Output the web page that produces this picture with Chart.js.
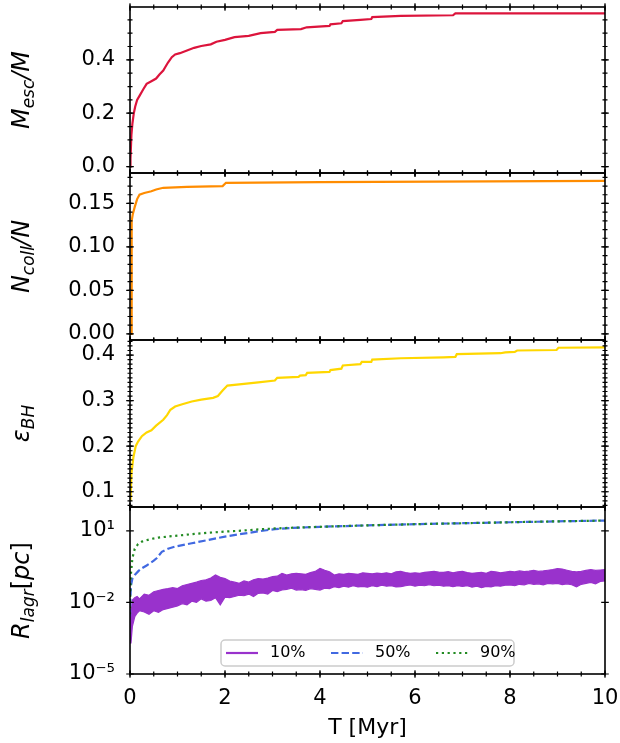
<!DOCTYPE html>
<html>
<head>
<meta charset="utf-8">
<script src="https://cdn.jsdelivr.net/npm/chart.js@4.4.1/dist/chart.umd.min.js"></script>
<style>
    html, body { margin: 0; padding: 0; background: #fff; }
    #wrap { position: relative; width: 620px; height: 743px; }
    #wrap canvas { position: absolute; left: 0; top: 0; }
</style>
</head>
<body>
<div id="wrap">
    <canvas id="escChart" width="620" height="743"></canvas>
    <canvas id="collChart" width="620" height="743"></canvas>
    <canvas id="bhChart" width="620" height="743"></canvas>
    <canvas id="lagrChart" width="620" height="743"></canvas>
</div>
<script>

// DATA

const X_TICKS = [0, 2, 4, 6, 8, 10];
const X_TITLE = "T [Myr]";

// escaped mass fraction
const tEsc = [0, 0.01, 0.03, 0.05, 0.08, 0.11, 0.15, 0.2, 0.28, 0.35, 0.45, 0.55, 0.62, 0.7, 0.75, 0.8, 0.88, 0.95,
    1.05, 1.2, 1.35, 1.5, 1.7, 1.82, 2.0, 2.2, 2.5, 2.75, 3.05, 3.1, 3.6, 3.72, 4.2, 4.22, 4.45, 4.48, 4.85,
    5.08, 5.1, 5.7, 6.8, 6.85, 10];
const mEsc = [0, 0.03, 0.12, 0.16, 0.2, 0.225, 0.25, 0.265, 0.29, 0.31, 0.32, 0.33, 0.345, 0.36, 0.375, 0.39, 0.41, 0.42,
    0.425, 0.435, 0.445, 0.452, 0.458, 0.468, 0.475, 0.485, 0.49, 0.5, 0.505, 0.512, 0.515, 0.522, 0.527, 0.533, 0.537, 0.545, 0.55,
    0.553, 0.56, 0.565, 0.567, 0.574, 0.574];
const escTicks = [0.0, 0.2, 0.4];

// collision fraction
const tColl = [0, 0.03, 0.035, 0.06, 0.1, 0.15, 0.2, 0.3, 0.45, 0.55, 0.7, 1.2, 1.95, 2.02, 4, 10];
const nColl = [0, 0, 0.13, 0.138, 0.146, 0.155, 0.16, 0.162, 0.164, 0.166, 0.168, 0.169, 0.170, 0.1737, 0.1745, 0.176];
const collTicks = [0.00, 0.05, 0.10, 0.15];

// BH retention
const tBH = [0.01, 0.03, 0.07, 0.12, 0.17, 0.25, 0.35, 0.45, 0.55, 0.7, 0.78, 0.85, 0.95, 1.1, 1.3, 1.5, 1.75, 1.85, 1.95,
    2.05, 2.35, 2.7, 3.05, 3.1, 3.55, 3.58, 3.7, 3.73, 4.2, 4.22, 4.45, 4.48, 4.85, 4.88, 5.08, 5.1, 5.7, 6.6, 6.85,
    6.88, 7.8, 7.9, 8.1, 8.15, 8.98, 9.02, 10];
const epsBH = [0.08, 0.14, 0.175, 0.2, 0.21, 0.222, 0.23, 0.235, 0.245, 0.258, 0.268, 0.28, 0.287, 0.292, 0.298, 0.302, 0.306, 0.31, 0.322,
    0.333, 0.336, 0.34, 0.344, 0.35, 0.352, 0.355, 0.356, 0.361, 0.363, 0.367, 0.37, 0.377, 0.38, 0.385, 0.385, 0.39, 0.393, 0.395, 0.396,
    0.402, 0.404, 0.406, 0.407, 0.41, 0.411, 0.416, 0.417];
const bhTicks = [0.1, 0.2, 0.3, 0.4];

// lagrangian radii, log10(pc)
const tBand = [0, 0.02, 0.05, 0.1, 0.15, 0.2, 0.3, 0.4, 0.5, 0.6, 0.7, 0.8, 0.9, 1.0,
    1.1, 1.2, 1.3, 1.4, 1.5, 1.6, 1.7, 1.8, 1.9, 2.0, 2.1, 2.2, 2.3, 2.4, 2.5, 2.6, 2.7, 2.8, 2.9, 3.0,
    3.1, 3.2, 3.3, 3.4, 3.5, 3.6, 3.7, 3.8, 3.9, 4.0, 4.1, 4.2, 4.3, 4.4, 4.5, 4.6, 4.7, 4.8, 4.9, 5.0,
    5.1, 5.2, 5.3, 5.4, 5.5, 5.6, 5.7, 5.8, 5.9, 6.0, 6.1, 6.2, 6.3, 6.4, 6.5, 6.6, 6.7, 6.8, 6.9, 7.0,
    7.1, 7.2, 7.3, 7.4, 7.5, 7.6, 7.7, 7.8, 7.9, 8.0, 8.1, 8.2, 8.3, 8.4, 8.5, 8.6, 8.7, 8.8, 8.9, 9.0,
    9.1, 9.2, 9.3, 9.4, 9.5, 9.6, 9.7, 9.8, 9.9, 10.0];
const r10HiLog = [-2.6, -2.5, -1.9, -1.8, -1.75, -1.85, -1.65, -1.7, -1.55, -1.5, -1.45, -1.42, -1.38, -1.42,
    -1.3, -1.25, -1.2, -1.15, -1.08, -1.05, -0.98, -0.85, -0.95, -1.0, -1.1, -1.15, -1.2, -1.1, -1.15, -1.05, -1.0, -1.02, -0.98, -0.92,
    -0.9, -0.78, -0.85, -0.8, -0.78, -0.8, -0.82, -0.75, -0.7, -0.57, -0.65, -0.72, -0.85, -0.8, -0.82, -0.78, -0.8, -0.82, -0.76, -0.78,
    -0.8, -0.77, -0.79, -0.76, -0.8, -0.72, -0.7, -0.75, -0.78, -0.76, -0.78, -0.74, -0.72, -0.7, -0.73, -0.74, -0.71, -0.76, -0.72, -0.7,
    -0.75, -0.78, -0.76, -0.74, -0.78, -0.7, -0.72, -0.76, -0.73, -0.7, -0.72, -0.68, -0.71, -0.69, -0.66, -0.7, -0.68, -0.65, -0.62, -0.58,
    -0.6, -0.65, -0.7, -0.72, -0.7, -0.66, -0.62, -0.66, -0.64, -0.62];
const r10LoLog = [-3.3, -3.72, -3.0, -2.6, -2.45, -2.35, -2.4, -2.5, -2.35, -2.42, -2.3, -2.25, -2.2, -2.15,
    -2.05, -2.1, -1.95, -2.0, -1.85, -1.95, -1.92, -1.8, -2.1, -1.78, -1.8, -1.75, -1.7, -1.72, -1.65, -1.75, -1.62, -1.6, -1.65, -1.5,
    -1.55, -1.48, -1.45, -1.4, -1.48, -1.46, -1.5, -1.42, -1.45, -1.48, -1.4, -1.42, -1.34, -1.38, -1.32, -1.36, -1.3, -1.35, -1.33, -1.36,
    -1.3, -1.34, -1.28, -1.32, -1.3, -1.35, -1.34, -1.3, -1.27, -1.32, -1.28, -1.3, -1.26, -1.3, -1.28, -1.32, -1.3, -1.34, -1.3, -1.33,
    -1.3, -1.36, -1.32, -1.38, -1.33, -1.35, -1.3, -1.32, -1.28, -1.27, -1.3, -1.24, -1.26, -1.2, -1.24, -1.22, -1.26, -1.2, -1.22, -1.2,
    -1.25, -1.22, -1.26, -1.35, -1.24, -1.2, -1.16, -1.22, -1.12, -1.1];

const t50 = [0, 0.005, 0.02, 0.05, 0.1, 0.18, 0.25, 0.35, 0.42, 0.5, 0.56, 0.62, 0.67, 0.8, 0.95, 1.3, 1.65, 2.0, 2.35, 2.7,
    3.05, 3.4, 4, 5, 6, 7, 8, 9, 10];
const r50Log = [-2.6, -2.0, -1.3, -1.0, -0.85, -0.68, -0.57, -0.45, -0.36, -0.25, -0.15, 0.0, 0.12, 0.25, 0.34, 0.48, 0.62, 0.76, 0.87, 0.98,
    1.07, 1.12, 1.17, 1.23, 1.28, 1.32, 1.36, 1.4, 1.43];

const t90 = [0, 0.005, 0.02, 0.05, 0.1, 0.17, 0.25, 0.42, 0.6, 0.95, 1.3, 1.65, 2.0, 2.35, 2.7, 3.05, 3.4, 4, 5, 6, 7, 8, 9, 10];
const r90Log = [-2.5, -1.6, -0.8, -0.15, 0.25, 0.45, 0.55, 0.65, 0.72, 0.79, 0.86, 0.92, 0.97, 1.01, 1.06, 1.1, 1.13, 1.17, 1.23, 1.28,
    1.32, 1.36, 1.4, 1.43];

const lagrLabels = ["10%", "50%", "90%"];
const lagrTicks = [1e-5, 1e-2, 1e1];


// HELPERS

const FONT = "'DejaVu Sans', sans-serif";
Chart.defaults.font.family = FONT;
Chart.defaults.color = "#000";

function pts(xs, ys) {
    return xs.map((x, i) => ({ x: x, y: ys[i] }));
}

function fromLog(arr) {
    return arr.map(v => Math.pow(10, v));
}

const SUP = { "-": "\u207B", "0": "\u2070", "1": "\u00B9", "2": "\u00B2", "3": "\u00B3", "4": "\u2074",
    "5": "\u2075", "6": "\u2076", "7": "\u2077", "8": "\u2078", "9": "\u2079" };

function powLabel(v) {
    const e = String(Math.round(Math.log10(v)));
    return "10" + e.split("").map(c => SUP[c]).join("");
}


// PLUGINS

// frame + in/out ticks on all four sides
const frameTicks = {
    id: "frameTicks",
    afterDraw(chart, args, o) {
        const ctx = chart.ctx;
        const a = chart.chartArea;
        const xs = chart.scales.x;
        const ys = chart.scales.y;

        ctx.save();
        ctx.strokeStyle = "#000";
        ctx.lineWidth = 1.2;

        function vTick(px, len) {
            ctx.beginPath();
            ctx.moveTo(px, a.bottom - len); ctx.lineTo(px, a.bottom + len);
            ctx.moveTo(px, a.top - len); ctx.lineTo(px, a.top + len);
            ctx.stroke();
        }
        function hTick(py, len) {
            ctx.beginPath();
            ctx.moveTo(a.left - len, py); ctx.lineTo(a.left + len, py);
            ctx.moveTo(a.right - len, py); ctx.lineTo(a.right + len, py);
            ctx.stroke();
        }

        for (let k = 0; k * 0.5 <= xs.max + 1e-9; k++) vTick(xs.getPixelForValue(k * 0.5), 2.5);
        X_TICKS.forEach(v => vTick(xs.getPixelForValue(v), 3.8));

        if (o.yMinor) {
            for (let k = Math.ceil(ys.min / o.yMinor - 1e-9); k * o.yMinor <= ys.max + 1e-9; k++) {
                hTick(ys.getPixelForValue(k * o.yMinor), 2.5);
            }
        }
        o.yMajor.forEach(v => hTick(ys.getPixelForValue(v), 3.8));

        ctx.lineWidth = 1.6;
        ctx.strokeRect(a.left, a.top, a.right - a.left, a.bottom - a.top);
        ctx.restore();
    }
};

// rotated y title with subscripts
const yLabel = {
    id: "yLabel",
    afterDraw(chart, args, o) {
        if (!o.parts) return;
        const ctx = chart.ctx;
        const a = chart.chartArea;
        const fonts = {
            i: "italic 24px " + FONT,
            n: "24px " + FONT,
            s: "italic 17px " + FONT
        };

        ctx.save();
        ctx.translate(29, (a.top + a.bottom) / 2);
        ctx.rotate(-Math.PI / 2);
        ctx.fillStyle = "#000";
        ctx.textAlign = "left";
        ctx.textBaseline = "alphabetic";

        let w = 0;
        o.parts.forEach(p => { ctx.font = fonts[p[1]]; w += ctx.measureText(p[0]).width; });
        let cx = -w / 2;
        o.parts.forEach(p => {
            ctx.font = fonts[p[1]];
            ctx.fillText(p[0], cx, p[1] === "s" ? 5 : 0);
            cx += ctx.measureText(p[0]).width;
        });
        ctx.restore();
    }
};

// matplotlib-like legend, lower center
const lagrLegend = {
    id: "lagrLegend",
    afterDraw(chart, args, o) {
        if (!o.show) return;
        const ctx = chart.ctx;
        const a = chart.chartArea;
        const w = 293, h = 26;
        const x0 = (a.left + a.right) / 2 - w / 2;
        const y0 = a.bottom - 8 - h;

        ctx.save();
        ctx.fillStyle = "rgba(255,255,255,0.8)";
        ctx.strokeStyle = "#cccccc";
        ctx.lineWidth = 1.5;
        ctx.beginPath();
        ctx.roundRect(x0, y0, w, h, 4);
        ctx.fill();
        ctx.stroke();

        const items = chart.data.datasets.filter(d => d.label);
        items.forEach((d, i) => {
            const lx = x0 + 5 + i * 105;
            const ly = y0 + h / 2;
            ctx.strokeStyle = d.borderColor;
            ctx.lineWidth = 2.2;
            ctx.setLineDash(d.borderDash || []);
            ctx.beginPath();
            ctx.moveTo(lx, ly);
            ctx.lineTo(lx + 32, ly);
            ctx.stroke();
            ctx.setLineDash([]);
            ctx.fillStyle = "#000";
            ctx.font = "16px " + FONT;
            ctx.textBaseline = "middle";
            ctx.fillText(d.label, lx + 44, ly);
        });
        ctx.restore();
    }
};


// PANELS

function makePanel(id, area, datasets, yScale, extra) {
    const showX = !!extra.showX;
    return new Chart(document.getElementById(id), {
        type: "line",
        data: { datasets: datasets },
        options: {
            responsive: false,
            animation: false,
            devicePixelRatio: 1,
            layout: { padding: { left: 0, right: 15, top: area[0], bottom: showX ? 0 : 743 - area[1] } },
            elements: { point: { radius: 0 }, line: { tension: 0 } },
            scales: {
                x: {
                    type: "linear",
                    min: 0,
                    max: 10,
                    display: showX,
                    afterFit: showX ? function (s) { s.height = 743 - area[1]; s.paddingLeft = 0; s.paddingRight = 0; } : undefined,
                    afterBuildTicks: function (s) { s.ticks = X_TICKS.map(v => ({ value: v })); },
                    grid: { display: false, drawTicks: false },
                    border: { display: false },
                    ticks: { font: { size: 21 }, padding: 12, color: "#000", maxRotation: 0 },
                    title: { display: showX, text: X_TITLE, font: { size: 22 }, color: "#000", padding: { top: 0, bottom: 2 } }
                },
                y: yScale
            },
            plugins: {
                legend: { display: false },
                tooltip: { enabled: false },
                frameTicks: { yMajor: extra.yMajor, yMinor: extra.yMinor },
                yLabel: { parts: extra.label },
                lagrLegend: { show: !!extra.legend }
            }
        },
        plugins: [frameTicks, yLabel, lagrLegend]
    });
}

function yAxis(type, min, max, major, fmt) {
    return {
        type: type,
        min: min,
        max: max,
        afterFit: function (s) { s.width = 130; s.paddingTop = 0; s.paddingBottom = 0; },
        afterBuildTicks: function (s) { s.ticks = major.map(v => ({ value: v })); },
        grid: { display: false, drawTicks: false },
        border: { display: false },
        ticks: { font: { size: 21 }, padding: 15, color: "#000", callback: fmt }
    };
}

function lineSet(data, color, extra) {
    return Object.assign({
        data: data,
        borderColor: color,
        backgroundColor: color,
        borderWidth: 2.2,
        pointRadius: 0,
        fill: false
    }, extra || {});
}

makePanel("escChart", [7, 173],
    [lineSet(pts(tEsc, mEsc), "#dc143c")],
    yAxis("linear", -0.024, 0.598, escTicks, v => v.toFixed(1)),
    { yMajor: escTicks, yMinor: 0.05, label: [["M", "i"], ["esc", "s"], ["/M", "i"]] });

makePanel("collChart", [173, 340],
    [lineSet(pts(tColl, nColl), "#ff8c00")],
    yAxis("linear", -0.007, 0.185, collTicks, v => v.toFixed(2)),
    { yMajor: collTicks, yMinor: 0.01, label: [["N", "i"], ["coll", "s"], ["/N", "i"]] });

makePanel("bhChart", [340, 507],
    [lineSet(pts(tBH, epsBH), "#ffd700")],
    yAxis("linear", 0.0665, 0.433, bhTicks, v => v.toFixed(1)),
    { yMajor: bhTicks, yMinor: 0.01, label: [["\u03B5", "i"], ["BH", "s"]] });

makePanel("lagrChart", [507, 674],
    [
        lineSet(pts(tBand, fromLog(r10HiLog)), "#9932cc", { label: lagrLabels[0], borderWidth: 1.2, fill: "+1", order: 3 }),
        lineSet(pts(tBand, fromLog(r10LoLog)), "#9932cc", { label: "", borderWidth: 1.2, order: 3 }),
        lineSet(pts(t50, fromLog(r50Log)), "#4169e1", { label: lagrLabels[1], borderDash: [7.4, 3.2], order: 2 }),
        lineSet(pts(t90, fromLog(r90Log)), "#228b22", { label: lagrLabels[2], borderDash: [2.2, 3.6], order: 1 })
    ],
    yAxis("logarithmic", 1e-5, 1e2, lagrTicks, v => powLabel(v)),
    { yMajor: lagrTicks, yMinor: 0, showX: true, legend: true,
      label: [["R", "i"], ["lagr", "s"], ["[", "n"], ["pc", "i"], ["]", "n"]] });

</script>
</body>
</html>
